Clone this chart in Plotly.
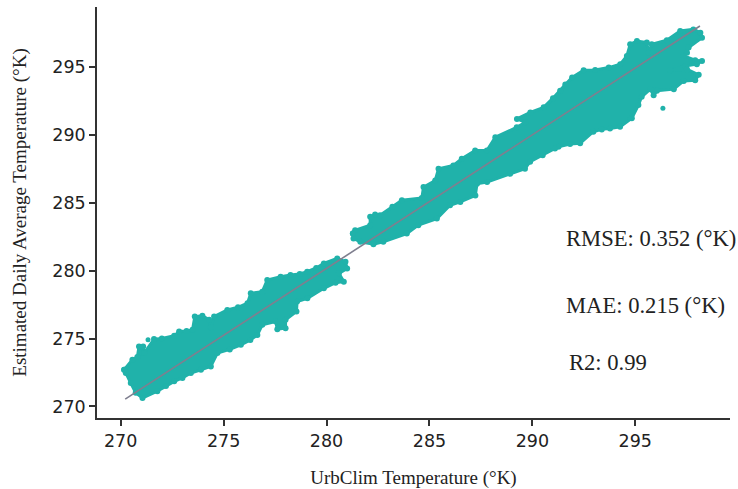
import plotly.graph_objects as go

# Outline of the point cloud (UrbClim T, estimated T)
cold_x = [270.17,270.57,270.81,270.89,271.09,271.14,271.62,272.0,272.6,272.84,273.2,273.49,273.6,273.97,274.3,274.38,274.54,
          275.18,275.7,276.16,276.32,276.88,277.12,277.77,278.25,278.7,279.06,279.5,279.87,280.52,280.92,
          281.00,280.60,280.84,280.44,279.87,279.07,278.57,278.54,278.01,278.01,277.61,277.53,276.88,276.64,276.3,275.84,
          275.3,274.7,274.38,273.9,273.41,273.0,272.6,272.2,271.78,271.06,270.73,270.49,270.25]
cold_y = [272.71,273.44,273.64,274.42,274.42,273.93,274.96,275.0,275.20,275.52,275.55,275.64,276.62,276.67,276.38,275.84,276.62,
          277.11,277.3,277.60,278.33,278.45,279.31,279.55,279.67,279.75,279.92,280.2,280.53,280.90,280.65,
          280.16,279.80,279.19,279.11,278.70,277.96,277.72,276.99,276.38,275.76,275.69,276.25,276.01,275.27,274.9,274.54,
          274.2,273.93,272.95,272.7,272.46,272.1,271.85,271.5,271.12,270.63,271.00,271.73,272.46]

warm_x = [281.28,281.39,282.12,282.12,282.36,282.6,283.2,283.66,284.63,284.71,285.28,285.44,286.16,286.57,287.22,287.79,
          288.2,289.24,289.66,289.25,289.90,290.55,291.0,291.35,291.6,291.93,292.49,293.05,293.71,294.27,294.59,294.75,
          295.08,295.56,295.64,295.80,296.53,297.18,297.82,298.16,298.24,297.59,297.51,297.35,297.91,298.24,297.99,297.43,
          296.70,297.51,298.08,297.91,297.35,296.87,296.05,295.89,295.73,295.31,295.15,294.83,294.26,293.77,293.37,292.96,
          292.32,291.83,291.27,291.1,290.5,289.89,289.64,288.92,287.80,287.31,287.23,286.5,286.0,285.36,284.46,283.9,
          282.76,282.28,281.64,281.31]
warm_y = [282.73,282.98,283.35,283.96,284.13,284.08,284.7,285.18,285.35,286.15,286.64,287.50,287.74,288.23,288.84,288.84,
          289.82,290.55,290.92,291.17,291.65,292.02,292.7,293.24,293.7,294.22,294.76,294.78,294.95,295.20,295.81,296.66,
          296.91,296.79,296.05,296.66,296.96,297.64,297.76,297.52,297.15,296.42,296.05,295.81,295.49,295.44,295.20,295.07,
          294.76,294.83,294.42,294.02,293.97,293.36,293.24,292.92,293.36,292.80,292.19,291.21,290.59,290.47,290.40,290.23,
          289.37,289.32,289.12,289.0,288.5,288.02,287.50,287.13,286.52,286.40,285.54,285.06,284.81,283.83,283.35,282.73,
          282.12,281.95,282.12,282.37]

outlier_x = [271.33, 296.34, 294.75]
outlier_y = [274.91, 291.95, 291.20]

line_x = [270.22, 298.14]
line_y = [270.54, 298.01]

x_ticks = [270, 275, 280, 285, 290, 295]
y_ticks = [270, 275, 280, 285, 290, 295]

TEAL = "#20b2aa"
SERIF = "Liberation Serif"
INK = "#222222"
fig = go.Figure()

for xs, ys in [(cold_x, cold_y), (warm_x, warm_y)]:
    fig.add_trace(go.Scatter(x=xs + xs[:1], y=ys + ys[:1], mode="lines+markers", fill="toself",
                             fillcolor=TEAL, line=dict(color=TEAL, width=3),
                             marker=dict(color=TEAL, size=6), showlegend=False))
fig.add_trace(go.Scatter(x=outlier_x, y=outlier_y, mode="markers",
                         marker=dict(color=TEAL, size=5), showlegend=False))
fig.add_trace(go.Scatter(x=line_x, y=line_y, mode="lines",
                         line=dict(color="#7f7f8f", width=1.6), showlegend=False))

axis = dict(showgrid=False, zeroline=False, showline=True, linecolor="#333", linewidth=1.5,
            ticks="outside", ticklen=6, tickwidth=1.5, tickcolor="#333",
            tickfont=dict(family="DejaVu Sans", size=17.5, color=INK))
fig.update_xaxes(range=[268.85, 299.60], tickvals=x_ticks,
                 title=dict(text="UrbClim Temperature (°K)",
                            font=dict(family=SERIF, size=19, color=INK), standoff=21), **axis)
fig.update_yaxes(range=[269.15, 299.41], tickvals=y_ticks,
                 title=dict(text="Estimated Daily Average Temperature (°K)",
                            font=dict(family=SERIF, size=19, color=INK), standoff=21), **axis)

notes = [("RMSE: 0.352 (°K)", 291.56, 282.40), ("MAE: 0.215 (°K)", 291.56, 277.40), ("R2: 0.99", 291.66, 273.21)]
for text, x, y in notes:
    fig.add_annotation(x=x, y=y, text=text, showarrow=False, xanchor="left", yanchor="middle",
                       font=dict(family=SERIF, size=22.6, color=INK))

fig.update_layout(width=738, height=489, margin=dict(l=96.5, r=8, t=6.7, b=70.7, autoexpand=False),
                  plot_bgcolor="white", paper_bgcolor="white")
fig.write_html("out.html", post_script="document.body.style.margin='0';", config={"displayModeBar": False})
